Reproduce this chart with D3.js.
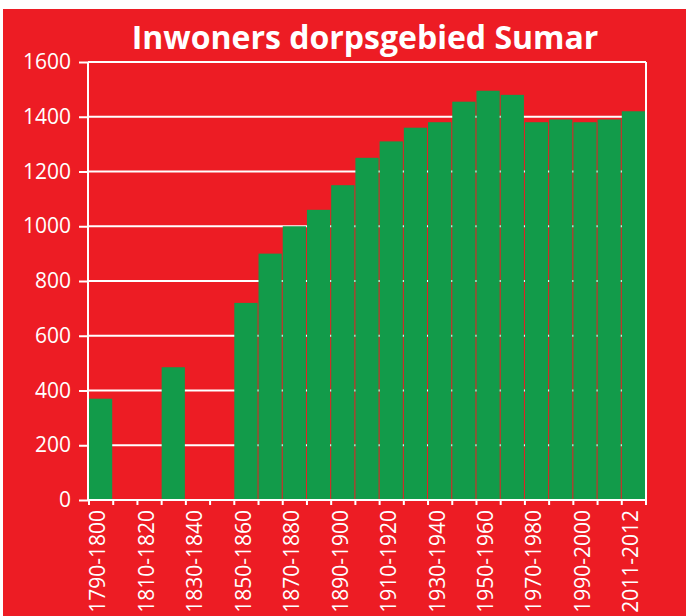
<!DOCTYPE html>
<html>
<head>
<meta charset="utf-8">
<script src="https://cdn.jsdelivr.net/npm/d3@7"></script>
<style>
  body { margin: 0; background: #fff; }
  svg text { font-family: "Open Sans", sans-serif; fill: #fff; }
</style>
</head>
<body>
<div id="chart"></div>
<script>
// periods (one bar each) and inhabitants
var periods = ["1790-1800", "1800-1810", "1810-1820", "1820-1830", "1830-1840", "1840-1850",
  "1850-1860", "1860-1870", "1870-1880", "1880-1890", "1890-1900", "1900-1910",
  "1910-1920", "1920-1930", "1930-1940", "1940-1950", "1950-1960", "1960-1970",
  "1970-1980", "1980-1990", "1990-2000", "2000-2010", "2011-2012"];
var inwoners = [370, 0, 0, 485, 0, 0,
  720, 900, 1000, 1060, 1150, 1250,
  1310, 1360, 1380, 1455, 1495, 1480,
  1380, 1390, 1380, 1390, 1420];
var shownLabels = ["1790-1800", "1810-1820", "1830-1840", "1850-1860", "1870-1880", "1890-1900",
  "1910-1920", "1930-1940", "1950-1960", "1970-1980", "1990-2000", "2011-2012"];
var yTicks = [0, 200, 400, 600, 800, 1000, 1200, 1400, 1600];

var data = periods.map(function(p, i) { return {period: p, value: inwoners[i]}; });

var W = 686, H = 616;
var margin = {top: 62, right: 40, bottom: 116, left: 88},
    width = 646 - margin.left,
    height = 500 - margin.top;

var svg = d3.select("#chart").append("svg")
    .attr("width", W)
    .attr("height", H);

// red panel
svg.append("rect")
    .attr("x", 3).attr("y", 9)
    .attr("width", W - 3).attr("height", H - 9)
    .attr("fill", "#ED1C24");

svg.append("text")
    .attr("x", 365)
    .attr("y", 49)
    .attr("text-anchor", "middle")
    .style("font-size", "32px")
    .style("font-weight", "bold")
    .text("Inwoners dorpsgebied Sumar");

var g = svg.append("g")
    .attr("transform", "translate(" + margin.left + "," + margin.top + ")");

var x = d3.scaleBand()
    .domain(periods)
    .range([1, width])
    .padding(0);

var y = d3.scaleLinear()
    .domain([0, 1600])
    .range([height, 0]);

// gridlines
g.selectAll(".grid")
    .data(yTicks.filter(function(d) { return d > 0; }))
  .enter().append("line")
    .attr("class", "grid")
    .attr("x1", 0).attr("x2", width)
    .attr("y1", function(d) { return y(d); })
    .attr("y2", function(d) { return y(d); })
    .attr("stroke", "#fff")
    .attr("stroke-width", 2);

// bars
g.selectAll(".bar")
    .data(data.filter(function(d) { return d.value > 0; }))
  .enter().append("rect")
    .attr("class", "bar")
    .attr("x", function(d) { return x(d.period); })
    .attr("width", x.bandwidth() - 1)
    .attr("y", function(d) { return y(d.value); })
    .attr("height", function(d) { return height - y(d.value); })
    .attr("fill", "#129B4A");

// right border
g.append("line")
    .attr("x1", width).attr("x2", width)
    .attr("y1", 0).attr("y2", height)
    .attr("stroke", "#fff")
    .attr("stroke-width", 2);

// Y axis
var yAxis = d3.axisLeft(y)
    .tickValues(yTicks)
    .tickFormat(d3.format("d"))
    .tickSize(9)
    .tickPadding(8);

var yG = g.append("g").call(yAxis);
yG.select(".domain").attr("stroke", "#fff").attr("stroke-width", 2).attr("d", "M0," + height + "V0");
yG.selectAll(".tick line").attr("stroke", "#fff").attr("stroke-width", 2);
yG.selectAll(".tick text")
    .attr("fill", "#fff")
    .style("font-size", "21px")
    .style("font-family", "'Open Sans', sans-serif");

// X axis
var xAxis = d3.axisBottom(x)
    .tickSize(0)
    .tickFormat(function(d) { return shownLabels.indexOf(d) >= 0 ? d : ""; });

var xG = g.append("g")
    .attr("transform", "translate(0," + height + ")")
    .call(xAxis);
xG.select(".domain").attr("stroke", "#fff").attr("stroke-width", 2).attr("d", "M0,0H" + (width + 1));
xG.selectAll(".tick text")
    .attr("fill", "#fff")
    .style("font-size", "21px")
    .style("font-family", "'Open Sans', sans-serif")
    .attr("text-anchor", "end")
    .attr("transform", "rotate(-90)")
    .attr("x", -10)
    .attr("y", -3)
    .attr("dy", "0.35em");

// small ticks at bar edges
g.selectAll(".xtick")
    .data(periods.concat(["end"]))
  .enter().append("line")
    .attr("class", "xtick")
    .attr("x1", function(d, i) { return i < periods.length ? x(d) : width; })
    .attr("x2", function(d, i) { return i < periods.length ? x(d) : width; })
    .attr("y1", height)
    .attr("y2", height + 5)
    .attr("stroke", "#fff")
    .attr("stroke-width", 2);
</script>
</body>
</html>
